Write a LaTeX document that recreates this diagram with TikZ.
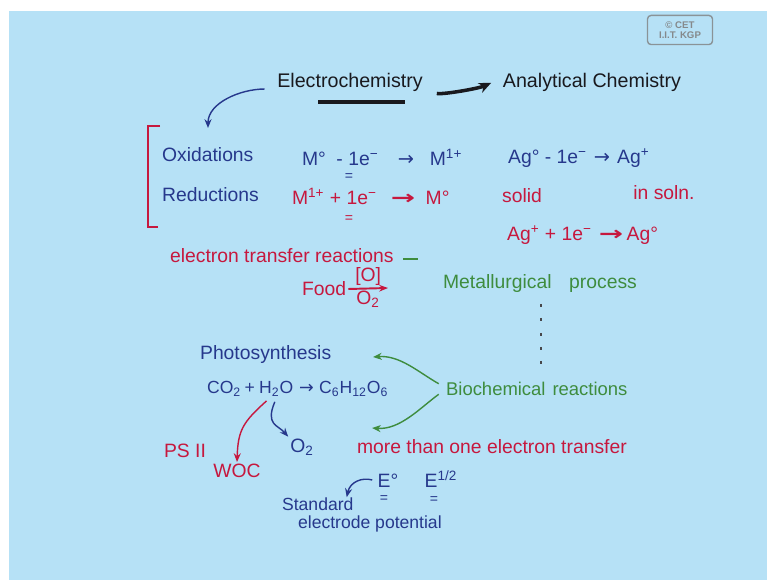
\documentclass[tikz,border=0pt]{standalone}
\usepackage{fontspec}
\setmainfont{Liberation Sans}
\newfontfamily\arrowfont{DejaVu Sans}
\usepackage{xcolor}
\usepackage{tikz}
\usetikzlibrary{positioning,arrows.meta}

\definecolor{board}{RGB}{182,225,246}
\definecolor{inkB}{RGB}{38,56,140}
\definecolor{inkR}{RGB}{198,24,62}
\definecolor{inkG}{RGB}{62,140,62}
\definecolor{inkK}{RGB}{25,25,30}

% hand-drawn style arrows inside the equations
\newcommand{\ra}{{\arrowfont →}}
\newcommand{\lra}{\scalebox{1.5}[1]{\arrowfont\bfseries →}}

\begin{document}
\begin{tikzpicture}[x=0.02cm, y=-0.02cm,
  hw/.style={inner sep=1pt, font=\fontsize{11}{13}\selectfont},
  bl/.style={hw, text=inkB},
  rd/.style={hw, text=inkR},
  gr/.style={hw, text=inkG},
  bk/.style={hw, text=inkK, font=\fontsize{11.2}{14}\selectfont},
  eq/.style={inner sep=0pt, font=\fontsize{8}{8}\selectfont},
  pen/.style={line width=0.8pt, -{Stealth[length=5pt,width=4pt]}},
  node distance=2mm and 3mm
]
  % board
  \useasboundingbox (0,0) rectangle (767,580);
  \fill[white] (0,0) rectangle (767,580);
  \fill[board] (9,11) rectangle (767,580);

  % stamp
  \node[draw=gray!80!board, rounded corners=2pt, text=gray!90!board, line width=0.8pt,
        font=\fontsize{5.5}{6}\selectfont\bfseries, align=center,
        minimum width=1.3cm, minimum height=0.52cm] (cet) at (680,30) {\textcopyright\ CET\\I.I.T. KGP};

  % title line
  \node[bk] (echem) at (350,82) {Electrochemistry};
  \node[bk] (anchem) at (592,82) {Analytical Chemistry};
  \draw[inkK, line width=1.8pt] (318,102) -- (405,102);
  \draw[inkK, line width=2pt, -{Stealth[length=7pt,width=6pt]}, shorten <=7pt, shorten >=6pt]
    ([yshift=-5pt]echem.east) .. controls +(18,4) and +(-22,10) .. ([yshift=2pt]anchem.west);
  \coordinate (oxtip) at (208,128);
  \draw[pen, inkB, shorten <=6pt] ([yshift=-4pt]echem.west) .. controls +(-35,0) and +(0,-25) .. (oxtip);

  % oxidation / reduction
  \draw[inkR, line width=1.2pt] (160,126) -- (148,126) -- (148,227) -- (158,227);
  \node[bl, anchor=west] (oxi) at (160,155) {Oxidations};
  \node[bl, anchor=west] (redu) at (160,195) {Reductions};
  \node[bl, anchor=west] (oxeq) at (300,157)
    {M°\hspace{6pt}- 1e\textsuperscript{−}\hspace{11pt}\ra\hspace{9pt}M\textsuperscript{1+}};
  \node[bl, eq] (oxbar) at (349,177) {=};
  \node[rd, anchor=west] (redeq) at (290,196)
    {M\textsuperscript{1+} + 1e\textsuperscript{−}\hspace{8pt}\lra\hspace{6pt}M°};
  \node[rd, eq] (redbar) at (349,219) {=};
  \node[bl, anchor=west] (agox) at (506,158)
    {Ag° - 1e\textsuperscript{−}\hspace{4pt}\ra\hspace{4pt}Ag\textsuperscript{+}};
  \node[rd] (solid) at (522,196) {solid};
  \node[rd] (soln) at (664,193) {in soln.};
  \node[rd, anchor=west] (agred) at (505,235)
    {Ag\textsuperscript{+} + 1e\textsuperscript{−}\hspace{4pt}\lra\hspace{2pt}Ag°};

  % electron transfer
  \node[rd, anchor=west] (etr) at (168,256) {electron transfer reactions};
  \draw[inkG, line width=0.8pt] (403,259) -- (418,259);
  \node[rd, anchor=west] (food) at (300,289) {Food};
  \coordinate (foodtip) at (388,288);
  \draw[inkR, line width=1.1pt, -{Stealth[length=5pt]}] (food.east) -- (foodtip)
    node[midway, above, rd] (oxo) {[O]} node[midway, below, rd] (otw) {O\textsubscript{2}};
  \node[gr] (metal) at (540,284) {Metallurgical\hspace{10pt}process};
  \foreach \y in {304,318,333,347,361}
    \draw[inkK!80, line width=1pt] (541,\y) -- (541,\y+3);

  % photosynthesis
  \node[bl, anchor=west] (photo) at (198,355) {Photosynthesis};
  \node[bl, anchor=west, font=\fontsize{10}{12}\selectfont] (co2) at (205,389) {CO\textsubscript{2}\hspace{2pt}+};
  \node[bl, right=0pt of co2, font=\fontsize{10}{12}\selectfont] (h2o) {H\textsubscript{2}O};
  \node[bl, right=1pt of h2o, font=\fontsize{10}{12}\selectfont] (glc)
    {\ra\hspace{3pt}C\textsubscript{6}H\textsubscript{12}O\textsubscript{6}};
  \node[gr, anchor=west, font=\fontsize{10.5}{12}\selectfont] (bio) at (444,389) {Biochemical\hspace{4pt}reactions};
  \coordinate (gtip1) at (373,357);
  \coordinate (gtip2) at (372,428);
  \draw[pen, inkG] ([xshift=-3pt,yshift=3pt]bio.west) .. controls (418,372) and (400,355) .. (gtip1);
  \draw[pen, inkG] ([xshift=-3pt,yshift=-3pt]bio.west) .. controls (420,408) and (400,430) .. (gtip2);

  % water oxidation
  \node[rd] (ps) at (185,451) {PS II};
  \node[rd] (woc) at (237,471) {WOC};
  \node[bl] (otwo) at (302,447) {O\textsubscript{2}};
  \draw[pen, inkR, shorten <=2pt] ([xshift=-4pt]h2o.south) .. controls (243,422) and (238,430) .. (woc.north);
  \draw[pen, inkB, shorten <=2pt] (h2o.south) .. controls (265,425) and (278,425) .. (otwo.north west);
  \node[rd, anchor=west] (multi) at (355,447) {more than one electron transfer};

  % potentials
  \node[bl] (ezero) at (388,481) {E°};
  \node[bl] (ehalf) at (441,479) {E\textsuperscript{1/2}};
  \node[bl, eq] (ezbar) at (384,499) {=};
  \node[bl, eq] (ehbar) at (434,500) {=};
  \node[bl, anchor=west, font=\fontsize{10}{12}\selectfont] (std) at (280,504) {Standard};
  \node[bl, anchor=west, font=\fontsize{10}{12}\selectfont] (elec) at (296,524) {electrode potential};
  \draw[pen, inkB, shorten <=2pt] (ezero.west) .. controls (362,477) and (350,482) .. ([xshift=-5pt,yshift=-1pt]std.north east);
\end{tikzpicture}
\end{document}
